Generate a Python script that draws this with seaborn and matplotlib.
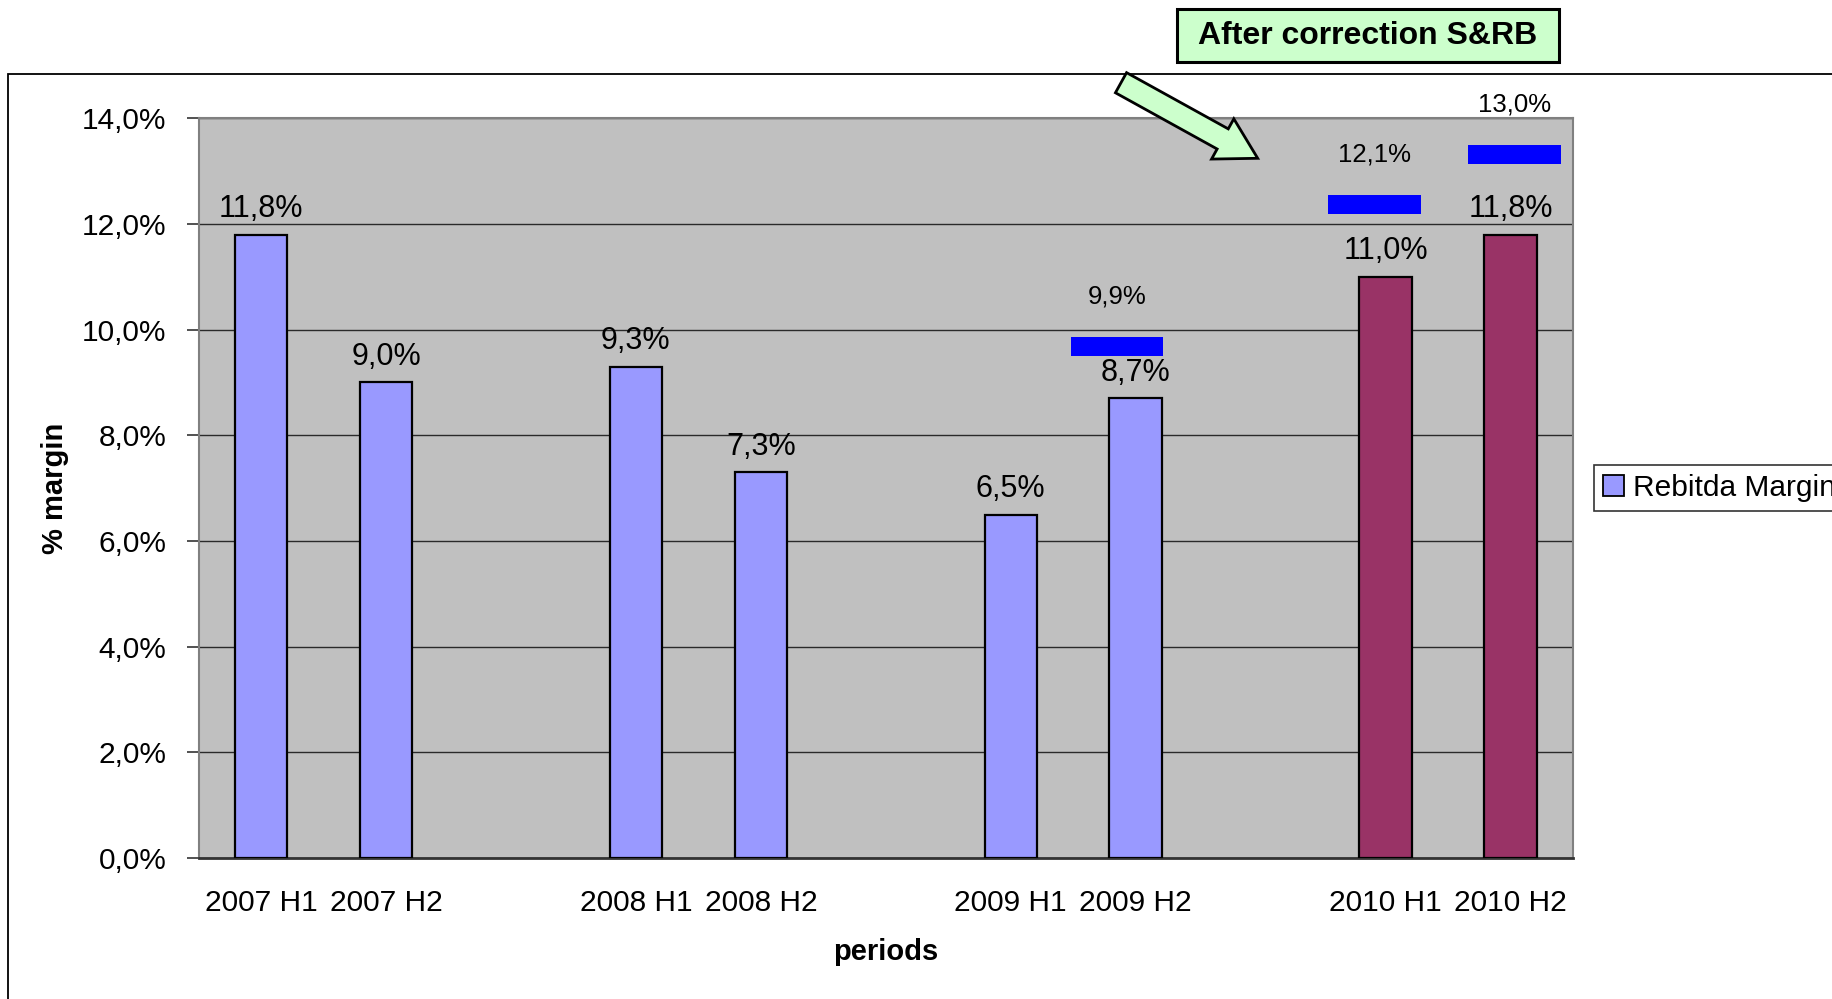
import numpy as np
import pandas as pd
import matplotlib
matplotlib.use("Agg")
import matplotlib.pyplot as plt
import matplotlib.patches as mpatches
from matplotlib.transforms import IdentityTransform
import seaborn as sns

# ---------------- data ----------------
slots = ["2007 H1", "2007 H2", "gap1", "2008 H1", "2008 H2", "gap2",
         "2009 H1", "2009 H2", "gap3", "2010 H1", "2010 H2"]
tick_labels = ["2007 H1", "2007 H2", "", "2008 H1", "2008 H2", "",
               "2009 H1", "2009 H2", "", "2010 H1", "2010 H2"]
periods = ["2007 H1", "2007 H2", "2008 H1", "2008 H2",
           "2009 H1", "2009 H2", "2010 H1", "2010 H2"]
margin = [11.8, 9.0, 9.3, 7.3, 6.5, 8.7, 11.0, 11.8]

corr_periods = ["2009 H2", "2010 H1", "2010 H2"]
corr_labels = [9.9, 12.1, 13.0]          # values written above the markers
corr_marker_level = [9.69, 12.37, 13.32]  # visual centre of blue dash markers
corr_offset = [-0.15, -0.09, 0.03]        # horizontal shift of markers within slot

yticks = [0, 2, 4, 6, 8, 10, 12, 14]

# ---------------- style ----------------
sns.set_style("white")
plt.rcParams["font.family"] = ["Liberation Sans", "DejaVu Sans"]
plt.rcParams["text.color"] = "black"
plt.rcParams["xtick.color"] = "black"
plt.rcParams["ytick.color"] = "black"
plt.rcParams["axes.labelcolor"] = "black"

BLUE = "#9999FF"
MAROON = "#993366"
palette = {p: (MAROON if p.startswith("2010") else BLUE) for p in periods}

W, H = 1832, 999
fig = plt.figure(figsize=(W / 100, H / 100), dpi=100)
fig.patch.set_facecolor("white")

ax_left, ax_right, ax_top, ax_bot = 198.6, 1573, 118.3, 858
ax = fig.add_axes([ax_left / W, 1 - ax_bot / H, (ax_right - ax_left) / W, (ax_bot - ax_top) / H])
ax.set_facecolor("#C0C0C0")

df = pd.DataFrame({"period": periods, "margin": margin})
sns.barplot(data=df, x="period", y="margin", hue="period", order=slots,
            palette=palette, saturation=1, width=0.42, edgecolor="black", linewidth=1.6,
            legend=False, ax=ax, zorder=3, errorbar=None)

ax.set_xlim(-0.5, len(slots) - 0.5)
ax.set_ylim(0, 14)

# gridlines
ax.set_yticks(yticks)
ax.set_yticklabels([f"{v:.1f}%".replace(".", ",") for v in yticks], fontsize=21.5)
ax.yaxis.grid(True, color="#2a2a2a", linewidth=1.0, zorder=1)
ax.set_axisbelow(True)

# x ticks
ax.set_xticks(range(len(slots)))
ax.set_xticklabels(tick_labels, fontsize=21.5)
ax.set_xticks(np.arange(-0.5, len(slots), 1.0), minor=True)
ax.tick_params(axis="x", which="major", length=0, pad=22)
ax.tick_params(axis="x", which="minor", length=10, width=1.2, color="black", direction="out")
ax.tick_params(axis="y", which="major", length=9, width=1.2, color="#333333",
               direction="out", pad=14, left=True)

for s in ["top", "right", "left"]:
    ax.spines[s].set_color("#808080")
    ax.spines[s].set_linewidth(1.5)
ax.spines["bottom"].set_color("#333333")
ax.spines["bottom"].set_linewidth(2)

# bar value labels
for p, v in zip(periods, margin):
    xi = slots.index(p)
    ax.annotate(f"{v:.1f}%".replace(".", ","), (xi, v), xytext=(0, 18.5),
                textcoords="offset points", ha="center", va="center",
                fontsize=22, zorder=5)

# corrected-value markers (blue dashes) and labels
for p, lvl, lab, off in zip(corr_periods, corr_marker_level, corr_labels, corr_offset):
    xi = slots.index(p) + off
    ax.bar(xi, 0.36, bottom=lvl - 0.18, width=0.74, color="#0000FF",
           edgecolor="none", zorder=4)
    ax.annotate(f"{lab:.1f}%".replace(".", ","), (xi, lvl), xytext=(0, 36),
                textcoords="offset points", ha="center", va="center",
                fontsize=18.5, zorder=5, annotation_clip=False)

ax.set_ylabel("% margin", fontsize=21, fontweight="bold", va="center")
ax.yaxis.set_label_coords((55 - ax_left) / (ax_right - ax_left), 0.5)
ax.set_xlabel("periods", fontsize=21, fontweight="bold", va="center")
ax.xaxis.set_label_coords(0.5, (ax_bot - 952) / (ax_bot - ax_top))

# outer chart border (extends beyond figure edges)
border = mpatches.Rectangle((8 / W, -0.2), 1.5, (1 - 74 / H) + 0.2, transform=fig.transFigure,
                            fill=False, edgecolor="black", linewidth=1.3, zorder=0)
fig.patches.append(border)

# legend (clipped at the right edge like the original)
handle = mpatches.Patch(facecolor=BLUE, edgecolor="black", linewidth=1.3)
leg = fig.legend([handle], ["Rebitda Margin"], loc="upper left",
                 bbox_to_anchor=(1594 / W, 1 - 465 / H), fontsize=21.5,
                 frameon=True, fancybox=False, edgecolor="black",
                 handlelength=0.7, handleheight=0.7, handletextpad=0.3,
                 borderpad=0.3, borderaxespad=0)
leg.get_frame().set_linewidth(1.2)

# title box "After correction S&RB"
tb = mpatches.Rectangle((1177 / W, 1 - 62 / H), 382 / W, 53 / H, transform=fig.transFigure,
                        facecolor="#CCFFCC", edgecolor="black", linewidth=2.2, zorder=5)
fig.patches.append(tb)
fig.text(1368 / W, 1 - 36 / H, "After correction S&RB", ha="center", va="center",
         fontsize=23, fontweight="bold", zorder=6)

# block arrow
tail = np.array([1121.0, H - 82.7])
tip = np.array([1257.7, H - 158.3])
d = tip - tail
arrow = mpatches.FancyArrow(tail[0], tail[1], d[0], d[1], width=23, head_width=46,
                            head_length=40, length_includes_head=True,
                            transform=IdentityTransform(), facecolor="#CCFFCC",
                            edgecolor="black", linewidth=2, zorder=10)
fig.patches.append(arrow)

fig.savefig("out.png", dpi=100, facecolor="white")
